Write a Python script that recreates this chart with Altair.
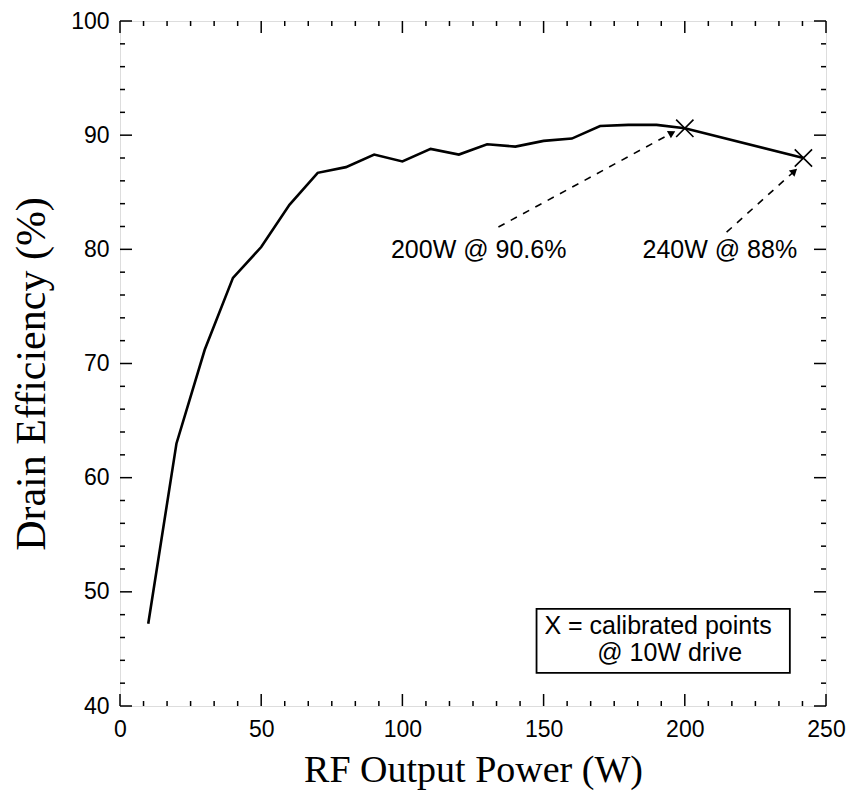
import math
import altair as alt
import pandas as pd

# ---------------- data ----------------
power = [10, 20, 30, 40, 50, 60, 70, 80, 90, 100, 110, 120, 130, 140, 150,
         160, 170, 180, 190, 200, 242]
efficiency = [47.2, 63.0, 71.2, 77.5, 80.2, 83.9, 86.7, 87.2, 88.3, 87.7, 88.8,
              88.3, 89.2, 89.0, 89.5, 89.7, 90.8, 90.9, 90.9, 90.6, 88.0]

cal_power = [200, 242]
cal_eff = [90.6, 88.0]

ann_text = ["200W @ 90.6%", "240W @ 88%"]
ann_x = [127.0, 212.4]
ann_y = [79.9, 79.9]

arrow_x1 = [134.0, 214.8]
arrow_y1 = [81.95, 81.5]
arrow_x2 = [195.5, 238.8]
arrow_y2 = [90.2, 86.85]

legend_lines = ["X = calibrated points", "@ 10W drive"]
legend_x = [150.3, 169.0]
legend_y = [47.05, 44.6]
legend_box_x = [147.5, 237.2]
legend_box_y = [42.9, 48.5]

x_major = [0, 50, 100, 150, 200, 250]
y_major = [40, 50, 60, 70, 80, 90, 100]
x_minor = [round(k * 50 / 6, 4) for k in range(1, 30) if k % 6 != 0]
y_minor = [v for v in range(42, 100, 2) if v % 10 != 0]

# ---------------- layout ----------------
W, H = 706, 685
X_DOMAIN = [0, 250]
Y_DOMAIN = [40, 100]
xs = alt.Scale(domain=X_DOMAIN, nice=False, zero=False)
ys = alt.Scale(domain=Y_DOMAIN, nice=False, zero=False)
SANS = "Liberation Sans"
SERIF = "Liberation Serif"

AX = alt.Axis(
    values=x_major, ticks=False, domain=False, grid=False,
    labelFont=SANS, labelFontSize=23, labelColor="black", labelPadding=12,
    labelFlush=False,
    title="RF Output Power (W)", titleFont=SERIF, titleFontSize=38,
    titleFontWeight="normal", titleColor="black",
    titleBaseline="middle", titleY=64, titleX=W / 2)
AY = alt.Axis(
    values=y_major, ticks=False, domain=False, grid=False,
    labelFont=SANS, labelFontSize=23, labelColor="black", labelPadding=11,
    labelFlush=False,
    title="Drain Efficiency (%)", titleFont=SERIF, titleFontSize=42,
    titleFontWeight="normal", titleColor="black", titleAngle=-90,
    titleBaseline="middle", titleAlign="center", titleX=-89, titleY=H / 2 + 10)


def X(field):
    return alt.X(field, type="quantitative", scale=xs, axis=AX)


def Y(field):
    return alt.Y(field, type="quantitative", scale=ys, axis=AY)


df_line = pd.DataFrame({"p": power, "e": efficiency})
df_cal = pd.DataFrame({"p": cal_power, "e": cal_eff})

line = alt.Chart(df_line).mark_line(color="black", strokeWidth=2.6).encode(
    x=X("p"), y=Y("e"))

xcross = "M-1,-1L1,1M-1,1L1,-1"
markers = alt.Chart(df_cal).mark_point(
    shape=xcross, size=300, color="black", strokeWidth=1.6, filled=False, opacity=1
).encode(x=X("p"), y=Y("e"))

# arrows
px_per_x = W / (X_DOMAIN[1] - X_DOMAIN[0])
px_per_y = H / (Y_DOMAIN[1] - Y_DOMAIN[0])
angles = [math.degrees(math.atan2((x2 - x1) * px_per_x, (y2 - y1) * px_per_y)) % 360
          for x1, y1, x2, y2 in zip(arrow_x1, arrow_y1, arrow_x2, arrow_y2)]
df_arrow = pd.DataFrame({"x1": arrow_x1, "y1": arrow_y1, "x2": arrow_x2,
                         "y2": arrow_y2, "ang": angles})

arrows = alt.Chart(df_arrow).mark_rule(
    color="black", strokeWidth=1.6, strokeDash=[7, 7]
).encode(x=X("x1"), y=Y("y1"), x2="x2:Q", y2="y2:Q")
heads = alt.Chart(df_arrow).mark_point(
    shape="triangle-up", filled=True, color="black", size=70, opacity=1
).encode(x=X("x2"), y=Y("y2"), angle=alt.Angle("ang:Q", scale=None))

df_ann = pd.DataFrame({"t": ann_text, "x": ann_x, "y": ann_y})
ann = alt.Chart(df_ann).mark_text(
    font=SANS, fontSize=25, color="black", align="center", baseline="middle"
).encode(x=X("x"), y=Y("y"), text="t:N")

df_box = pd.DataFrame({"x1": [legend_box_x[0]], "x2": [legend_box_x[1]],
                       "y1": [legend_box_y[0]], "y2": [legend_box_y[1]]})
box = alt.Chart(df_box).mark_rect(fill="white", stroke="black", strokeWidth=1.8).encode(
    x=X("x1"), x2="x2:Q", y=Y("y1"), y2="y2:Q")
df_leg = pd.DataFrame({"t": legend_lines, "x": legend_x, "y": legend_y})
leg = alt.Chart(df_leg).mark_text(
    font=SANS, fontSize=25, color="black", align="left", baseline="middle"
).encode(x=X("x"), y=Y("y"), text="t:N")


# inward ticks on all four sides
def xticks(vals, length):
    d = pd.DataFrame({"v": vals})
    base = alt.Chart(d).mark_rule(color="black", strokeWidth=1.5)
    bottom = base.encode(x=X("v"), y=alt.value(H), y2=alt.value(H - length))
    top = base.encode(x=X("v"), y=alt.value(0), y2=alt.value(length))
    return [bottom, top]


def yticks(vals, length):
    d = pd.DataFrame({"v": vals})
    base = alt.Chart(d).mark_rule(color="black", strokeWidth=1.5)
    left = base.encode(y=Y("v"), x=alt.value(0), x2=alt.value(length))
    right = base.encode(y=Y("v"), x=alt.value(W), x2=alt.value(W - length))
    return [left, right]


tick_layers = (xticks(x_major, 12) + xticks(x_minor, 5)
               + yticks(y_major, 12) + yticks(y_minor, 5))

chart = alt.layer(
    line, *tick_layers, box, leg, arrows, heads, ann, markers
).properties(
    width=W, height=H,
    autosize=alt.AutoSizeParams(type="none"),
    padding={"left": 112, "top": 13, "right": 21, "bottom": 86},
).configure_view(
    stroke="black", strokeWidth=2
).configure(background="white")

chart.save("out.html", embed_options={"renderer": "svg", "actions": False})
